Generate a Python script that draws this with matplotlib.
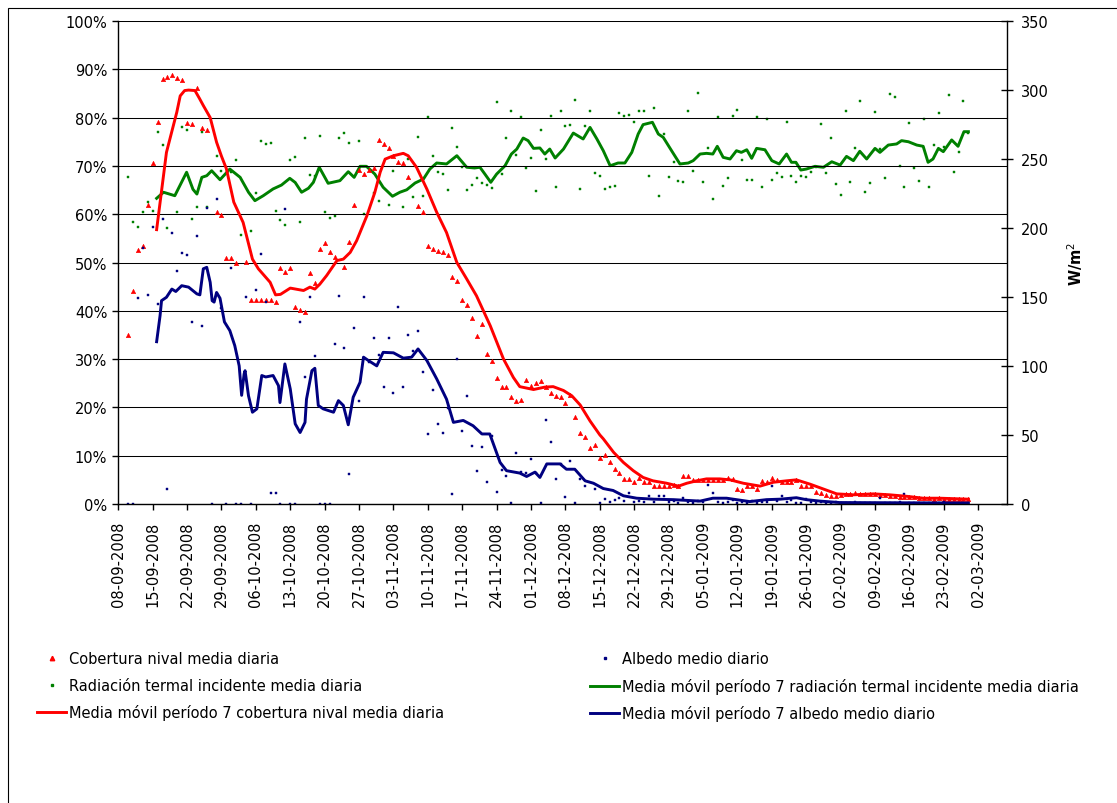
import numpy as np
import matplotlib
matplotlib.use("Agg")
import matplotlib.pyplot as plt
import matplotlib.dates as mdates
from matplotlib.lines import Line2D
from matplotlib.patches import Rectangle
from matplotlib.ticker import PercentFormatter, MultipleLocator
from datetime import datetime

plt.rcParams['font.family'] = ['DejaVu Sans']

# Daily series, one value per day starting 10-09-2008 (day 2 after 08-09-2008); None = no data
first_day = 2
snow_pct = [
    35, 44, 52.6, 53.4, 62, 70.6, 79, 87.9, 88.5, 88.8,
    88.3, 87.8, 78.9, 78.6, 86.2, 77.8, 77.5, None, 60.4, 59.8,
    51, 51, 50, None, 50.2, 42.3, 42.3, 42.3, 42.3, 42.3,
    41.8, 48.8, 48, 48.8, 40.8, 40.1, 39.7, 47.8, 45.8, 52.7,
    54, 52.2, 51.1, None, 49.1, 54.2, 61.9, 69.2, 68.3, 69.2,
    69.5, 75.4, 74.5, 73.7, 72.1, 70.9, 70.6, 67.8, None, 61.6,
    60.5, 53.5, 52.8, 52.4, 52.1, 51.6, 46.9, 46.2, 42.2, 41.1,
    38.5, 34.7, 37.2, 31, 29.6, 26.1, 24.2, 24.2, 22.2, 21.4,
    21.6, 25.6, 24.5, 25.1, 25.4, 24.2, 22.9, 22.3, 22.2, 20.9,
    22.6, 18, 14.8, 13.8, 11.5, 12.2, 9.5, 10.1, 8.6, 7.2,
    6.4, 5.2, 5.2, 4.5, 5.4, 4.5, 4.5, 3.8, 3.8, 3.8,
    3.8, 3.9, 3.7, 5.7, 5.7, 5.0, 5.0, 5.0, 5.0, 5.0,
    5.0, 5.0, 5.4, 5.2, 3.2, 2.8, 3.7, 3.7, 3.2, 4.8,
    4.5, 5.3, 5.0, 4.6, 4.6, 4.6, 4.9, 3.7, 3.7, 3.7,
    2.5, 2.2, 1.9, 1.6, 1.6, 1.8, 2.0, 2.1, 2.2, 2.1,
    2.0, 2.0, 2.0, 1.9, 1.9, 1.7, 1.6, 1.5, 1.5, 1.4,
    1.4, 1.3, 1.2, 1.2, 1.1, 1.2, 1.1, 1.1, 1.0, 1.1,
    1.0, 1.0,
]
albedo_pct = [
    0, 0, 42.6, 52.9, 43.3, 57.3, 41.4, 59.1, 3.1, 56.1,
    48.3, 52, 51.6, 37.7, 55.5, 36.9, 61.2, 0, 63.1, 40.6,
    0, 48.8, 0, 0, 42.8, 0, 44.3, 51.8, 41.8, 2.2,
    2.2, 0, 61.1, 0, 0, 37.7, 26.2, 42.8, 30.7, 0,
    0, 0, 33.1, 43.1, 32.4, 6.3, 36.4, 21.3, 42.9, 29.3,
    34.4, 30.9, 24.2, 34.4, 23, 40.8, 24.2, 35, 31.7, 35.8,
    27.4, 14.5, 23.5, 16.6, 14.7, 19.8, 2, 30, 15.2, 22.3,
    12.1, 6.9, 11.9, 4.5, 14.1, 2.4, 7.1, 5.9, 0.2, 10.5,
    6.7, 6.4, 9.4, 6.4, 0.2, 17.3, 12.8, 5.2, 8.3, 1.5,
    8.8, 0.2, 5.2, 3.8, None, 3.1, 0.3, 1.0, 0.5, 0.8,
    1.2, 0.7, 2.3, 0.5, 0.7, 0.4, 1.6, 0.5, 1.6, 1.6,
    0.4, 0.7, 0.3, 1.2, 0.5, 0.3, 0.6, 0.4, 3.9, 2.3,
    0.4, 0.3, 0.5, 0.8, 0.3, 0.4, 0.2, 0.6, 0.3, 0.5,
    0.4, 3.7, 0.6, 1.7, 0.4, 0.9, 0.3, 0.3, 1.0, 0.4,
    0.2, 0.5, 0.3, 0.2, 0.4, 0.2, 0.3, 0.2, 0.4, 0.2,
    0.3, 0.2, 0.2, 1.2, 0.3, 0.2, 0.2, 0.4, 2.0, 0.2,
    0.3, 0.2, 0.2, 0.3, 0.2, 0.2, 0.4, 0.2, 0.2, 0.3,
    0.2, 0.2,
]
radiation_wm2 = [
    236.7, 204.6, 200.5, 211.4, 219, 212.3, 269.8, 260, 199.8, None,
    211.4, 273.4, 271.2, 206.5, 215.4, 269.8, 215.4, None, 252.4, 241.5,
    None, 240.4, 249.3, 195.1, None, 198, 225.3, 263.3, 260.9, 261.4,
    212.5, 205.8, 202.4, 249.3, 251.2, 204.6, 265, 238.4, 237.4, 266.4,
    211.8, 207, 208.5, 265, 268.8, 261.6, None, 263.3, 210.1, None,
    225.3, 219.3, None, 216.7, 241.3, None, 215.4, 250, 222.2, 265.7,
    223.2, 280.6, 252.4, 240.8, 238.9, 227.5, 272.7, 258.5, 244, 227.3,
    231.1, 236.5, 232.6, 231.1, 228.8, 291.5, 239.1, 265.4, 285, 252.9,
    280.2, 243.2, 250.7, 227, 271.2, 250, 281.4, 229.5, 285, 274.1,
    274.9, 293, 228, 274.1, 285, 239.8, 237.9, 228, 229.5, 230.2,
    283, 281.4, 281.9, 276.6, 285, 285, 237.9, 286.7, 223.4, 268.1,
    236.7, 247.6, 234.3, 233.5, 285, 241.3, 297.8, 233.5, 257.7, 221,
    280.2, 230.4, 236, 281.4, 285.7, 249, 235, 235, 280.2, 229.7,
    279, 235, 239.8, 236.7, 276.6, 237.9, 233.5, 237.4, 236.7, 240.4,
    244.4, 275.1, 239.8, 265, 231.9, 224.1, 285, 233.5, 257.7, 292.2,
    226.3, 232.6, 283.8, 257.2, 236, 297.1, 294.7, 244.7, 229.5, 275.9,
    243.2, 234.3, 279, 229.5, 260.1, 283, 258.5, 296.4, 240.4, 254.8,
    292.2, 268.8,
]

# 7-period moving averages (day offset from 08-09-2008, value)
snow_ma_day = [7.8, 9.8, 11.9, 12.6, 13.5, 14.3, 15.6, 16.5, 17.3, 18.7,
               20, 21, 22, 23.5, 25.4, 27.3, 28.5, 30.9, 32, 33,
               35, 37.7, 39, 40, 41, 42.4, 44.5, 45.8, 47.2, 48.5,
               50.6, 52.2, 53.3, 54.3, 56, 58, 59, 60.7, 62.8, 64.8,
               66.8, 68.9, 70.9, 72.9, 75.7, 78.4, 80.4, 81.7, 84.5, 86.8,
               88.5, 90.6, 92.3, 94, 96, 98, 98.7, 100.8, 102.8, 104.8,
               106.8, 108.8, 111.6, 114, 115.7, 117.7, 119.7, 122.4, 124.5, 127.2,
               130.6, 133.3, 136, 138, 140.8, 143.5, 146.2, 149.6, 153.7, 157,
               160.4, 163.8, 167.2, 173]
snow_ma = [56.8, 72.8, 81.1, 84.5, 85.6, 85.7, 85.6, 84, 82.5, 80,
           74.9, 72, 69.4, 62.5, 58.3, 50.7, 48.7, 45.9, 43.3, 43.4,
           44.7, 44.2, 44.9, 44.5, 45.5, 47.3, 50.4, 50.7, 52.1, 54.5,
           59.7, 64.5, 68.7, 71.4, 72.1, 72.6, 72.1, 69.7, 65.2, 60.4,
           56.2, 50, 46.6, 43.1, 36.9, 30, 26.2, 24.3, 23.7, 24.2,
           24.3, 23.5, 22.4, 20.5, 17.2, 14.3, 13.5, 10.7, 8.6, 6.9,
           5.5, 4.8, 4.3, 3.7, 4.3, 4.8, 5.2, 5.2, 5.0, 4.3,
           3.7, 4.5, 4.8, 5.0, 4.1, 3.1, 2.1, 1.9, 2.1, 1.9,
           1.6, 1.2, 1.2, 1.0]

albedo_ma_day = [7.8, 8.5, 8.8, 9.8, 10.9, 11.7, 12.9, 14.3, 16, 16.6,
                 17.3, 18, 18.7, 19.1, 19.5, 20, 20.7, 21.6, 22.7, 23.7,
                 24.6, 25.1, 25.6, 25.8, 26.5, 27.3, 28.2, 29.2, 30, 31.5,
                 32.6, 32.9, 33.4, 33.9, 35, 36, 37, 38, 38.3, 39.4,
                 40, 40.7, 41.7, 43.8, 44.8, 45.8, 46.8, 47.8, 49.2, 49.9,
                 50.9, 52.6, 53.9, 56, 58, 59.7, 61, 62.8, 64.8, 66.8,
                 68.2, 70.2, 72.2, 74, 75.6, 77.7, 79, 81.7, 83.1, 84.8,
                 85.8, 87.2, 89.9, 91.2, 92.9, 95, 96.7, 98.7, 100.7, 102.8,
                 105.5, 108.9, 113, 118.4, 121, 123.8, 125.8, 128.5, 131.9, 134.7,
                 138, 140, 142.8, 146.8, 173]
albedo_ma = [33.6, 39, 42.1, 42.8, 44.5, 44, 45.2, 44.9, 43.5, 43.3,
             48.7, 49, 45.9, 42.1, 41.8, 43.8, 42.6, 37.7, 35.9, 32.8,
             28.6, 22.5, 26.9, 27.6, 22.4, 19, 19.7, 26.6, 26.3, 26.6,
             24.5, 21, 25, 29, 23.8, 16.6, 14.8, 16.9, 21.7, 27.6,
             28.1, 20.4, 19.7, 19, 21.4, 20.4, 16.4, 22.1, 25.2, 30.4,
             29.7, 28.6, 31.4, 31.3, 30.2, 30.4, 32.1, 29.7, 25.9, 21.7,
             16.9, 17.3, 16.2, 14.5, 14.5, 8.6, 6.9, 6.4, 5.7, 6.6,
             5.5, 8.3, 8.3, 7.2, 7.2, 4.8, 4.3, 3.2, 2.8, 1.7,
             1.2, 1.0, 0.9, 0.6, 1.2, 1.2, 0.9, 0.5, 0.9, 1.0,
             1.3, 0.9, 0.6, 0.3, 0.2]

radiation_ma_day = [7.8, 9.2, 11.5, 13.9, 15.2, 16, 17, 18, 19, 20.7,
                    22.7, 24.8, 26.5, 27.8, 29.5, 31.5, 33.2, 34.9, 36, 37.3,
                    38.7, 39.7, 40.9, 42.7, 45.1, 46.8, 48, 49.2, 50.5, 52.2,
                    53.9, 55.8, 57.3, 58.7, 60.4, 62.1, 63.4, 64.8, 66.8, 68.9,
                    70.9, 72.5, 73.6, 74.6, 75.8, 77, 78.7, 80, 81.1, 82.4,
                    83.4, 84.5, 85.8, 86.8, 87.8, 88.9, 90.6, 92.6, 94.6, 96,
                    97.4, 98.7, 100.1, 101.7, 103.1, 104.5, 105.8, 106.8, 108.7, 109.9,
                    110.9, 112.6, 114.3, 116, 117, 118.4, 119.7, 121, 121.9, 123.1,
                    124.5, 125.8, 126.8, 127.9, 128.9, 129.9, 131.6, 133, 134.5, 136,
                    137, 137.9, 138.9, 140, 141.8, 143.5, 145.2, 146.9, 148.2, 149.6,
                    150.9, 152.3, 154, 155, 156.7, 158.4, 159.4, 160.8, 162.5, 163.8,
                    164.8, 165.8, 166.9, 167.9, 169.6, 170.9, 172.1, 173]
radiation_ma = [221.5, 225.9, 223.4, 240.4, 228, 224.6, 236.7, 237.9, 241.5, 235,
                242.7, 236.7, 225.9, 219.8, 223.4, 228.3, 231.1, 236, 233, 225.9,
                228.8, 233.1, 244, 232.4, 234.3, 240.8, 236.7, 244.7, 244.7, 239.1,
                229.5, 223, 225.9, 227.7, 232.6, 235.5, 242.7, 247.1, 246.4, 252.4,
                244, 243.5, 244, 239.1, 233.1, 239.1, 245.1, 253.6, 257.2, 265.2,
                263.3, 257.7, 258, 253.6, 257.2, 250.7, 257.2, 268.8, 264.5, 272.9,
                264.5, 256, 245.1, 247.1, 247.1, 254.8, 268.1, 274.9, 276.6, 268.1,
                265.7, 256, 246.4, 247.1, 248.8, 253.6, 254.1, 253.6, 259.2, 251.2,
                250, 256, 254.8, 256.7, 250.5, 257.7, 256.7, 248.8, 246.4, 253.6,
                247.6, 247.6, 242, 242.7, 244.7, 244, 248, 245.6, 251.9, 248.8,
                255.6, 250, 257.7, 254.8, 260.1, 260.9, 263.3, 262.5, 260.1, 259.2,
                247.6, 250, 257.7, 255.3, 263.8, 259.2, 269.8, 269.8]

labels = [
    "Cobertura nival media diaria",
    "Radiación termal incidente media diaria",
    "Media móvil período 7 cobertura nival media diaria",
    "Albedo medio diario",
    "Media móvil período 7 radiación termal incidente media diaria",
    "Media móvil período 7 albedo medio diario",
]

RED = "#FF0000"
NAVY = "#000080"
GREEN = "#008000"
FS = 10.5

base = mdates.date2num(datetime(2008, 9, 8))


def to_x(days):
    return base + np.asarray(days, dtype=float)


daily_x = to_x(np.arange(first_day, first_day + len(snow_pct)))
snow = np.array(snow_pct, dtype=float)
albedo = np.array(albedo_pct, dtype=float)
radiation = np.array(radiation_wm2, dtype=float)

fig = plt.figure(figsize=(11.17, 8.04), dpi=100)
ax = fig.add_axes([118.3 / 1117, 1 - 505 / 804, (1006.7 - 118.3) / 1117, 483 / 804])
ax2 = ax.twinx()

# radiation on the secondary axis, kept underneath the percentage series
ax2.plot(daily_x, radiation, ls="none", marker="s", ms=1.6, mec=GREEN, mfc=GREEN, mew=0.3)
ax2.plot(to_x(radiation_ma_day), radiation_ma, color=GREEN, lw=2.1)

ax.plot(daily_x, snow, ls="none", marker="^", ms=3.2, mec=RED, mfc=RED, mew=0.4)
ax.plot(daily_x, albedo, ls="none", marker="s", ms=1.6, mec=NAVY, mfc=NAVY, mew=0.3)
ax.plot(to_x(albedo_ma_day), albedo_ma, color=NAVY, lw=2.1)
ax.plot(to_x(snow_ma_day), snow_ma, color=RED, lw=2.1)

ax.set_zorder(ax2.get_zorder() + 1)
ax.patch.set_visible(False)

ax.set_xlim(base, base + 180.8)
ax.set_ylim(0, 100)
ax2.set_ylim(0, 350)

ax.xaxis.set_major_locator(mdates.WeekdayLocator(byweekday=mdates.MO))
ax.xaxis.set_major_formatter(mdates.DateFormatter("%d-%m-%Y"))
ax.yaxis.set_major_locator(MultipleLocator(10))
ax.yaxis.set_major_formatter(PercentFormatter(decimals=0))
ax2.yaxis.set_major_locator(MultipleLocator(50))

ax.grid(axis="y", color="black", lw=0.75)
ax.set_axisbelow(True)

for s in ("top", "right"):
    ax.spines[s].set_visible(False)
for s in ("top", "left", "bottom"):
    ax2.spines[s].set_visible(False)
ax.spines["left"].set_linewidth(1.0)
ax.spines["bottom"].set_linewidth(1.0)
ax2.spines["right"].set_linewidth(1.0)

ax.tick_params(axis="x", direction="out", length=4, width=1, labelsize=FS,
               labelrotation=90, pad=8)
ax.tick_params(axis="y", direction="out", length=4, width=1, labelsize=FS, pad=4)
ax2.tick_params(axis="y", direction="inout", length=8, width=1, labelsize=FS, pad=6)

ax2.set_ylabel("W/m$^2$", fontsize=FS, fontweight="bold", labelpad=12)

# legend in two columns below the plot
h = [
    Line2D([], [], ls="none", marker="^", ms=3.2, color=RED),
    Line2D([], [], ls="none", marker="s", ms=1.6, color=GREEN),
    Line2D([], [], color=RED, lw=2.1),
    Line2D([], [], ls="none", marker="s", ms=1.6, color=NAVY),
    Line2D([], [], color=GREEN, lw=2.1),
    Line2D([], [], color=NAVY, lw=2.1),
]
legend_kw = dict(loc="upper left", frameon=False, fontsize=FS, borderpad=0,
                 borderaxespad=0, handlelength=2.0, handletextpad=0.2,
                 labelspacing=0.8)
leg1 = fig.legend(h[:3], labels[:3], bbox_to_anchor=(37 / 1117, 1 - 652 / 804), **legend_kw)
leg2 = fig.legend(h[3:], labels[3:], bbox_to_anchor=(590 / 1117, 1 - 652 / 804), **legend_kw)

# chart area border
fig.patches.append(Rectangle((8 / 1117, -0.01), 1.1, 1 - 9 / 804 + 0.01,
                             transform=fig.transFigure, fill=False,
                             edgecolor="black", lw=0.8))

fig.savefig("out.png", dpi=100)
